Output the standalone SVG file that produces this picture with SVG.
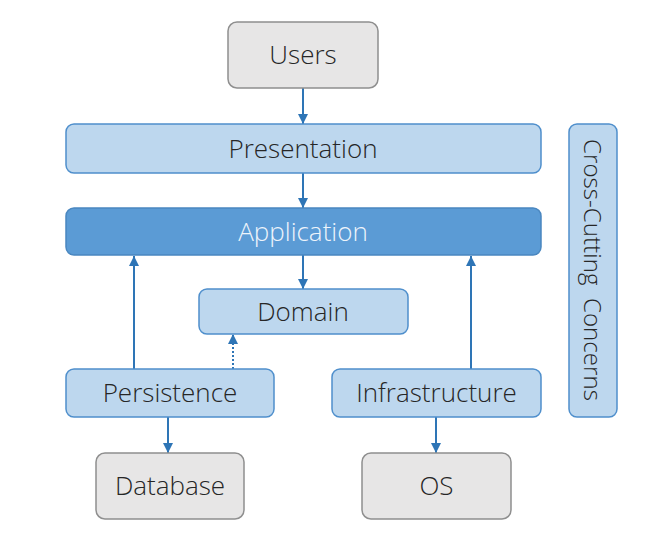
<svg xmlns="http://www.w3.org/2000/svg" width="664" height="549" viewBox="0 0 664 549">
<defs>
<style>
.ext rect{fill:#e7e6e6;stroke:#8f8f8f;stroke-width:1.5}
.lay rect{fill:#bdd7ee;stroke:#4f8fcc;stroke-width:1.5}
.app rect{fill:#5b9bd5;stroke:#4a87c0;stroke-width:1.5}
text{font-family:"Open Sans","Noto Sans",sans-serif;font-weight:300;font-size:26px;fill:#262626;text-anchor:middle;dominant-baseline:central}
.app text{fill:#eef4fb}
.cc{font-size:24px}
.conn line{stroke:#2e75b6;stroke-width:2;fill:none}
.conn .dot{stroke-dasharray:2 2}
</style>
<marker id="ah" viewBox="0 0 10 10" refX="10" refY="5" markerWidth="5" markerHeight="5" orient="auto" markerUnits="strokeWidth">
<path d="M0,0 L10,5 L0,10 z" fill="#2e75b6"/>
</marker>
</defs>
<rect width="664" height="549" fill="#ffffff"/>
<g class="conn">
<line x1="303" y1="88" x2="303" y2="124" marker-end="url(#ah)"/>
<line x1="303" y1="173" x2="303" y2="208" marker-end="url(#ah)"/>
<line x1="303" y1="255" x2="303" y2="289" marker-end="url(#ah)"/>
<line x1="134" y1="369" x2="134" y2="256" marker-end="url(#ah)"/>
<line x1="471" y1="369" x2="471" y2="256" marker-end="url(#ah)"/>
<line class="dot" x1="233" y1="369" x2="233" y2="334" marker-end="url(#ah)"/>
<line x1="168" y1="417" x2="168" y2="453" marker-end="url(#ah)"/>
<line x1="436" y1="417" x2="436" y2="453" marker-end="url(#ah)"/>
</g>
<g id="users" class="ext"><rect x="228" y="22" width="150" height="66" rx="9"/><text x="303" y="54">Users</text></g>
<g id="presentation" class="lay"><rect x="66" y="124" width="475" height="49" rx="8"/><text x="303" y="147.5">Presentation</text></g>
<g id="application" class="app"><rect x="66" y="208" width="475" height="47" rx="8"/><text x="303" y="230.5">Application</text></g>
<g id="domain" class="lay"><rect x="199" y="289" width="209" height="45" rx="8"/><text x="303" y="310.5">Domain</text></g>
<g id="persistence" class="lay"><rect x="66" y="369" width="208" height="48" rx="8"/><text x="170" y="392">Persistence</text></g>
<g id="infrastructure" class="lay"><rect x="332" y="369" width="209" height="48" rx="8"/><text x="436.5" y="392">Infrastructure</text></g>
<g id="database" class="ext"><rect x="96" y="453" width="148" height="66" rx="9"/><text x="170" y="485">Database</text></g>
<g id="os" class="ext"><rect x="362" y="453" width="149" height="66" rx="9"/><text x="436.5" y="485">OS</text></g>
<g id="crosscutting" class="lay"><rect x="569" y="124" width="48" height="293" rx="8"/><text class="cc" x="593" y="270" transform="rotate(90 593 270)" textLength="262" lengthAdjust="spacingAndGlyphs">Cross-Cutting&#160; Concerns</text></g>
</svg>
